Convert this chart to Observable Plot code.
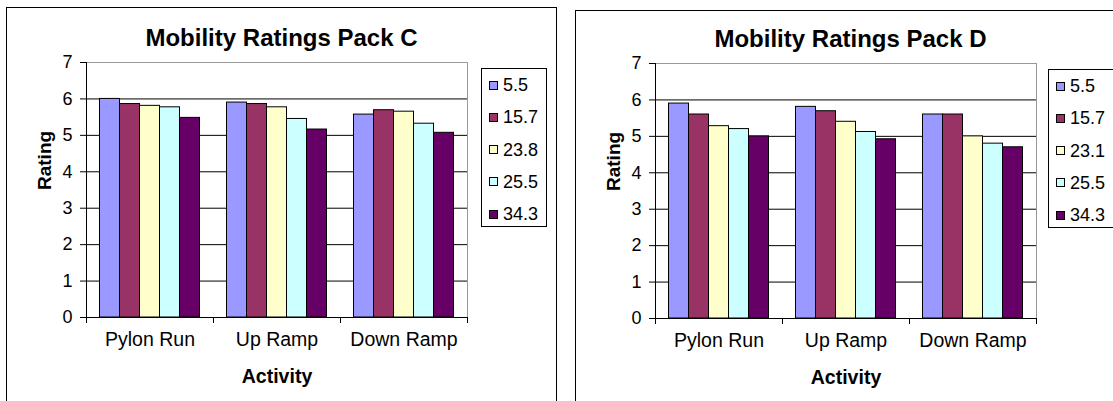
<!DOCTYPE html>
<html>
<head>
<meta charset="utf-8">
<script src="https://cdn.jsdelivr.net/npm/d3@7"></script>
<script src="https://cdn.jsdelivr.net/npm/@observablehq/plot@0.6"></script>
<style>
  html, body { margin: 0; padding: 0; background: #fff; }
  body { position: relative; width: 1113px; height: 401px; overflow: hidden;
         font-family: "Liberation Sans", Arial, Helvetica, sans-serif; color: #000; }
  .box { position: absolute; width: 549px; height: 430px; border: 1px solid #000; }
  .content { position: absolute; width: 549px; height: 400px; }
  .title { position: absolute; left: 0; top: 18px; width: 549px; text-align: center;
           font-weight: bold; font-size: 24px; line-height: 24px; white-space: nowrap; }
  .chart { position: absolute; left: 0; top: 42px; }
  .legend { position: absolute; top: 60px; height: 157px;
            border: 1px solid #000; background: #fff; }
  .row { position: absolute; left: 0; width: 100%; height: 20px; line-height: 20px; font-size: 18px; }
  .swatch { position: absolute; left: 7px; top: 5.5px; width: 9px; height: 9px;
            border: 1px solid #000; box-sizing: border-box; }
  .label { position: absolute; left: 21px; top: 0; white-space: nowrap; }
</style>
</head>
<body>
<script>
// Activities on the x axis
const activities = ["Pylon Run", "Up Ramp", "Down Ramp"];

// Series (legend entries) for each pack
const seriesPackC = ["5.5", "15.7", "23.8", "25.5", "34.3"];
const seriesPackD = ["5.5", "15.7", "23.1", "25.5", "34.3"];

// Ratings, one row per activity, one value per series
const ratingsPackC = [
  [6.0, 5.86, 5.81, 5.77, 5.48],   // Pylon Run
  [5.9, 5.86, 5.77, 5.45, 5.16],   // Up Ramp
  [5.57, 5.69, 5.65, 5.32, 5.07]   // Down Ramp
];
const ratingsPackD = [
  [5.9, 5.6, 5.28, 5.2, 5.0],      // Pylon Run
  [5.81, 5.69, 5.4, 5.12, 4.92],   // Up Ramp
  [5.6, 5.6, 5.0, 4.8, 4.7]        // Down Ramp
];

const ratingTicks = [0, 1, 2, 3, 4, 5, 6, 7];
const gridTicks = [1, 2, 3, 4, 5, 6];
const seriesColors = ["#9999ff", "#993366", "#ffffcc", "#ccffff", "#660066"];

const FONT = '"Liberation Sans", Arial, Helvetica, sans-serif';

function drawPanel({boxLeft, boxTop, left, top, legendLeft, legendWidth, title, seriesNames, ratings}) {
  const box = document.createElement("div");
  box.className = "box";
  box.style.left = boxLeft + "px";
  box.style.top = boxTop + "px";
  document.body.appendChild(box);

  const content = document.createElement("div");
  content.className = "content";
  content.style.left = left + "px";
  content.style.top = top + "px";
  document.body.appendChild(content);

  const titleDiv = document.createElement("div");
  titleDiv.className = "title";
  titleDiv.textContent = title;
  content.appendChild(titleDiv);

  const rows = activities.flatMap((activity, i) =>
    seriesNames.map((series, j) => ({activity, series, rating: ratings[i][j]}))
  );

  const W = 549, H = 350, mL = 79, mR = 89, mT = 12, mB = 83;
  const step = (W - mL - mR) / activities.length;   // width of one activity band
  const barW = 20;                                   // width of a single bar
  const groupPad = (step - barW * seriesNames.length) / 2;

  // one bar mark per series, offset inside the activity band
  const bars = seriesNames.map((s, j) =>
    Plot.barY(rows.filter(d => d.series === s), {
      x: "activity",
      y: "rating",
      fill: seriesColors[j],
      stroke: "#000",
      strokeWidth: 1,
      insetLeft: groupPad + barW * j,
      insetRight: step - groupPad - barW * (j + 1)
    })
  );

  const chart = Plot.plot({
    width: W,
    height: H,
    marginLeft: mL,
    marginRight: mR,
    marginTop: mT,
    marginBottom: mB,
    style: {fontFamily: FONT, fontSize: "18px", color: "#000", background: "transparent", overflow: "visible"},
    x: {type: "band", domain: activities, padding: 0, axis: null},
    y: {domain: [0, 7], ticks: ratingTicks, tickFormat: d => String(d), tickSize: 6, tickPadding: 8, label: null},
    marks: [
      Plot.frame({stroke: "#999"}),
      Plot.ruleY(gridTicks, {stroke: "#000", strokeWidth: 1}),
      ...bars,
      // value axis line
      Plot.ruleX([activities[0]], {x: d => d, y1: 0, y2: 7, dx: -step / 2, stroke: "#000"}),
      // category axis line and the ticks between activities
      Plot.ruleY([0], {stroke: "#000"}),
      Plot.ruleX(activities, {x: d => d, y1: 0, y2: 0, insetBottom: -6, dx: -step / 2, stroke: "#000"}),
      Plot.ruleX([activities[activities.length - 1]], {x: d => d, y1: 0, y2: 0, insetBottom: -6, dx: step / 2, stroke: "#000"}),
      // category labels
      Plot.text(activities, {x: d => d, frameAnchor: "bottom", dy: 28.5, fontSize: 19.5}),
      Plot.text(["Rating"], {frameAnchor: "left", dx: -42, rotate: -90, fontWeight: "bold", fontSize: 19}),
      Plot.text(["Activity"], {frameAnchor: "bottom", dy: 65, fontWeight: "bold", fontSize: 19.5})
    ]
  });
  chart.classList.add("chart");
  content.appendChild(chart);

  // legend
  const legend = document.createElement("div");
  legend.className = "legend";
  legend.style.left = legendLeft + "px";
  legend.style.width = legendWidth + "px";
  seriesNames.forEach((s, j) => {
    const row = document.createElement("div");
    row.className = "row";
    row.style.top = (16 + 32.3 * j - 10) + "px";
    const sw = document.createElement("div");
    sw.className = "swatch";
    sw.style.background = seriesColors[j];
    const lab = document.createElement("div");
    lab.className = "label";
    lab.textContent = s;
    row.appendChild(sw);
    row.appendChild(lab);
    legend.appendChild(row);
  });
  content.appendChild(legend);
}

drawPanel({boxLeft: 6, boxTop: 7, left: 7, top: 8, legendLeft: 474, legendWidth: 64,
           title: "Mobility Ratings Pack C", seriesNames: seriesPackC, ratings: ratingsPackC});
drawPanel({boxLeft: 575, boxTop: 10, left: 576, top: 9, legendLeft: 472, legendWidth: 70,
           title: "Mobility Ratings Pack D", seriesNames: seriesPackD, ratings: ratingsPackD});
</script>
</body>
</html>
